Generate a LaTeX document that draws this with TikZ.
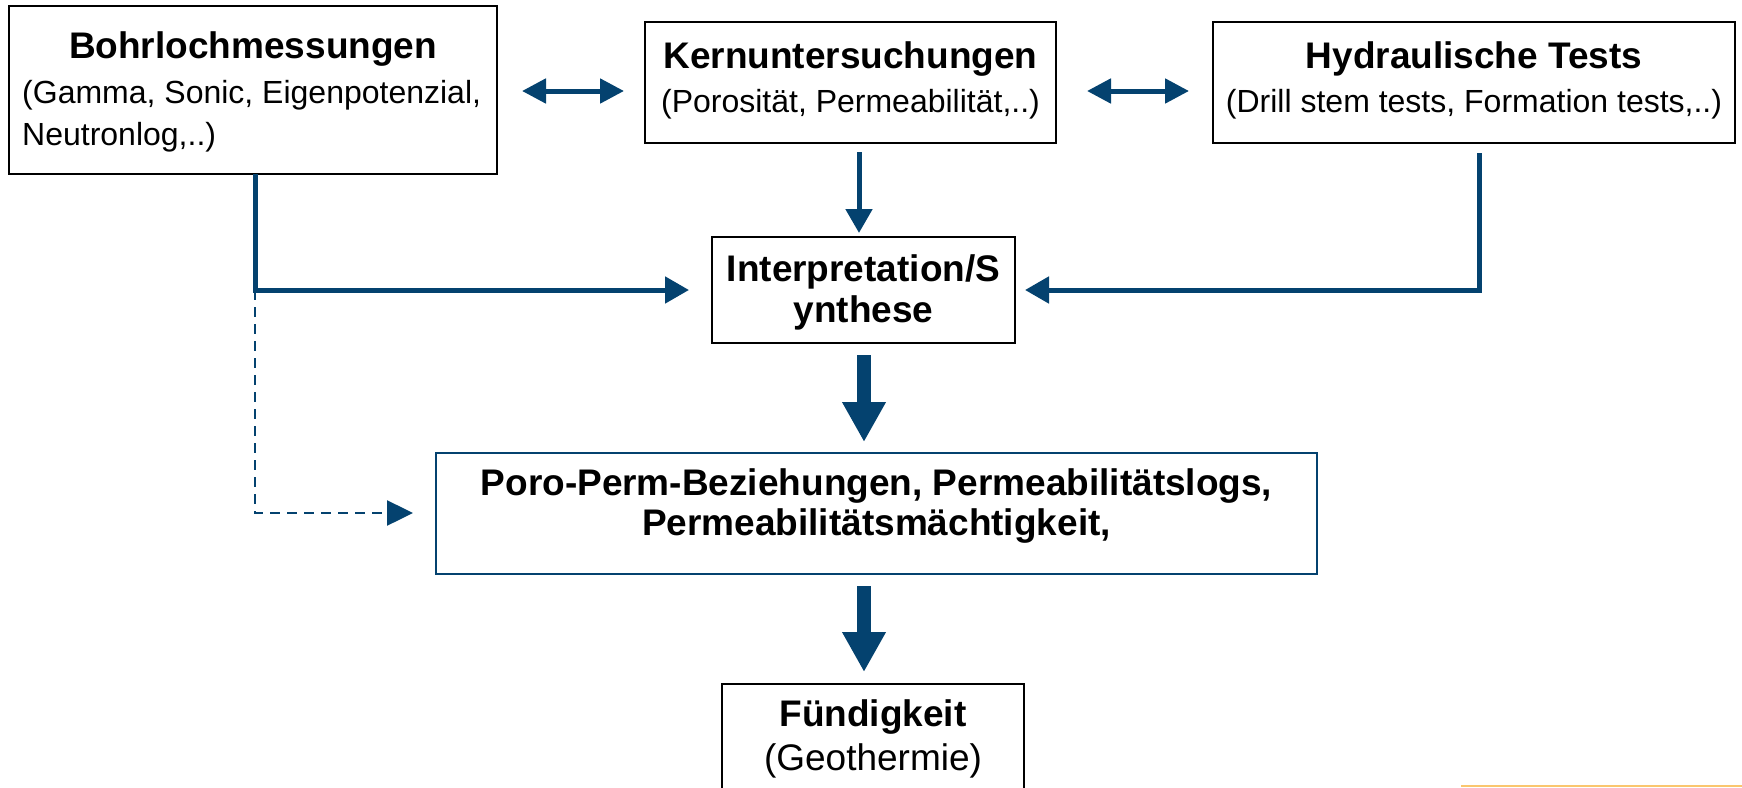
\documentclass[tikz,border=0pt]{standalone}
\usepackage{fontspec}
\setmainfont{Liberation Sans}
\usetikzlibrary{arrows.meta}
\definecolor{navy}{RGB}{4,66,111}
\definecolor{gold}{RGB}{250,198,110}
\begin{document}
\begin{tikzpicture}[x=1pt,y=-1pt,
  box/.style={draw=black, line width=2.5pt, fill=white, inner sep=0pt, outer sep=0pt},
  bluebox/.style={draw=navy, line width=2pt, fill=white, inner sep=0pt, outer sep=0pt},
  ttl/.style={inner sep=0pt, font=\bfseries\fontsize{37}{41}\selectfont, anchor=base},
  sub/.style={inner sep=0pt, font=\fontsize{32}{40}\selectfont, anchor=base},
  bigsub/.style={inner sep=0pt, font=\fontsize{37}{41}\selectfont, anchor=base},
  conn/.style={draw=navy, line width=5pt, -{Triangle[length=24pt,width=26pt]}},
  dconn/.style={draw=navy, line width=2.5pt, dash pattern=on 10pt off 7pt, -{Triangle[length=26pt,width=25pt]}},
  biarrow/.style={draw=navy, line width=5pt, {Triangle[length=24pt,width=24pt]}-{Triangle[length=24pt,width=24pt]}},
  bigarrow/.style={draw=navy, line width=14pt, -{Triangle[length=40pt,width=41pt]}},
]
\useasboundingbox (0,0) rectangle (1742,787);
\clip (0,0) rectangle (1742,787);
\fill[white] (0,0) rectangle (1742,787);

% boxes
\node[box, minimum width=488, minimum height=168] (b1) at (253,90) {};
\node[box, minimum width=411, minimum height=121] (b2) at (850.5,82.5) {};
\node[box, minimum width=522, minimum height=121] (b3) at (1474,82.5) {};
\node[box, minimum width=303, minimum height=106] (ib) at (863.5,290) {};
\node[bluebox, minimum width=881, minimum height=121] (pb) at (876.5,513.5) {};
\node[box, minimum width=302, minimum height=136] (fb) at (873,752) {};

% texts
\node[ttl] (b1t) at (253,58) {Bohrlochmessungen};
\node[sub, anchor=base west] (b1s) at (22,103) {(Gamma, Sonic, Eigenpotenzial,};
\node[sub, anchor=base west] (b1u) at (22,145) {Neutronlog,..)};
\node[ttl] (b2t) at (850.5,68) {Kernuntersuchungen};
\node[sub] (b2s) at (850.5,112) {(Porosität, Permeabilität,..)};
\node[ttl] (b3t) at (1474,68) {Hydraulische Tests};
\node[sub] (b3s) at (1474,112) {(Drill stem tests, Formation tests,..)};
\node[ttl] (ibt) at (863.5,281) {Interpretation/S};
\node[ttl] (ibs) at (863.5,322) {ynthese};
\node[ttl] (pbt) at (876.5,495) {Poro-Perm-Beziehungen, Permeabilitätslogs,};
\node[ttl] (pbs) at (876.5,535) {Permeabilitätsmächtigkeit,};
\node[ttl] (fbt) at (873,726) {Fündigkeit};
\node[bigsub] (fbs) at (873,770) {(Geothermie)};

% coordinates
\coordinate (j1) at (255,290);
\coordinate (j2) at (255,513);
\coordinate (j3) at (1479,290);
\coordinate (x2) at (859,0);
\coordinate (x4) at (864,0);

% connectors
\draw[biarrow] ([xshift=25pt,yshift=-1pt]b1.east) -- ([xshift=-21pt,yshift=-8.5pt]b2.west);
\draw[biarrow] ([xshift=31pt,yshift=-8.5pt]b2.east) -- ([xshift=-24pt,yshift=-8.5pt]b3.west);
\draw[conn] (b1.south -| j1) -- (j1) -- ([xshift=-23pt]ib.west |- j1);
\draw[dconn] (j1) -- (j2) -- ([xshift=-23pt]pb.west |- j2);
\draw[conn] ([yshift=-9pt]b2.south -| x2) -- ([yshift=4pt]ib.north -| x2);
\draw[conn] ([yshift=-10pt]b3.south -| j3) -- (j3) -- ([xshift=10pt]ib.east |- j3);
\draw[bigarrow] ([yshift=-12pt]ib.south -| x4) -- ([yshift=11pt]pb.north -| x4);
\draw[bigarrow] ([yshift=-12pt]pb.south -| x4) -- ([yshift=12pt]fb.north -| x4);

% decorative line bottom right
\draw[gold, line width=2pt] (1461,786) -- (1742,786);
\end{tikzpicture}
\end{document}
